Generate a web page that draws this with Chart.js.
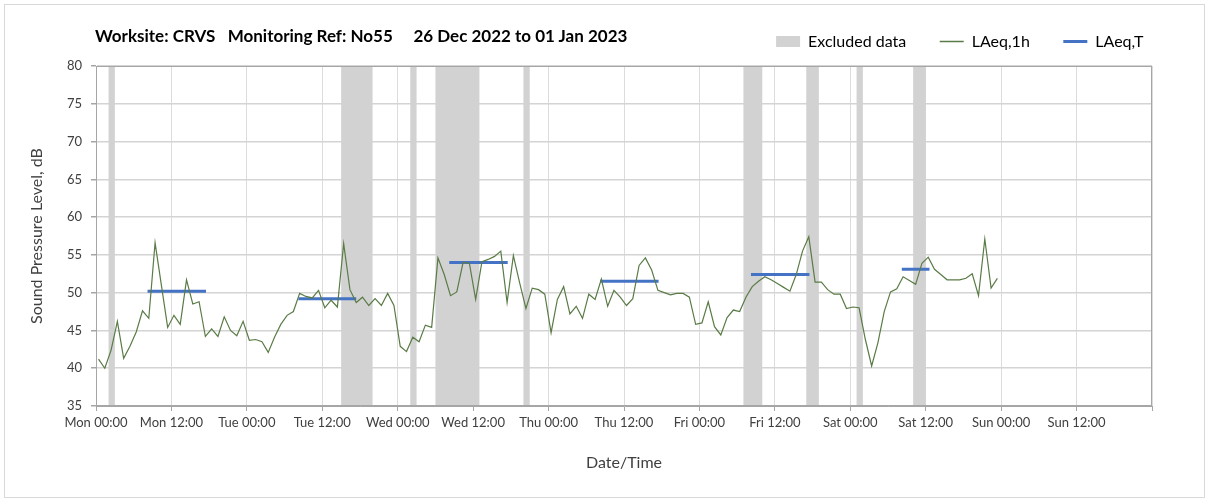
<!DOCTYPE html>
<html lang="en">
<head>
<meta charset="UTF-8">
<title>Noise monitoring CRVS No55</title>
<script src="https://cdn.jsdelivr.net/npm/chart.js"></script>
<style>
    body {
        margin: 0;
        background: #ffffff;
        font-family: Lato, "Open Sans", sans-serif;
    }
    #wrap {
        position: relative;
        width: 1208px;
        height: 501px;
    }
    #frame {
        position: absolute;
        left: 4px;
        top: 4px;
        width: 1199px;
        height: 492px;
        border: 1px solid #d9d9d9;
    }
    #heading {
        position: absolute;
        left: 95px;
        top: 25px;
        font-size: 17px;
        font-weight: bold;
        color: #000000;
        white-space: pre;
    }
    canvas {
        position: absolute;
        left: 0;
        top: 0;
    }
</style>
</head>
<body>
<div id="wrap">
    <div id="frame"></div>
    <canvas id="noise" width="1208" height="501"></canvas>
    <div id="heading">Worksite: CRVS   Monitoring Ref: No55     26 Dec 2022 to 01 Jan 2023</div>
</div>
<script>
// x axis is hours from Mon 26 Dec 00:00
const tickLabels = ['Mon 00:00', 'Mon 12:00', 'Tue 00:00', 'Tue 12:00', 'Wed 00:00', 'Wed 12:00',
    'Thu 00:00', 'Thu 12:00', 'Fri 00:00', 'Fri 12:00', 'Sat 00:00', 'Sat 12:00', 'Sun 00:00', 'Sun 12:00', ''];

// hourly LAeq,1h, dB (first reading at firstHour, then one per hour)
const firstHour = 0.4;
const laeq1h = [
    41.2, 40.0, 42.4, 46.2, 41.3, 42.9, 44.8, 47.6, 46.6, 56.6, 51.0, 45.4,
    47.0, 45.8, 51.7, 48.5, 48.8, 44.2, 45.2, 44.2, 46.8, 45.0, 44.3, 46.2,
    43.7, 43.8, 43.5, 42.1, 44.1, 45.8, 47.0, 47.5, 49.9, 49.5, 49.3, 50.3,
    48.0, 49.0, 48.1, 56.5, 50.4, 48.7, 49.4, 48.3, 49.2, 48.3, 49.9, 48.3,
    42.9, 42.2, 44.1, 43.5, 45.7, 45.4, 54.6, 52.4, 49.6, 50.1, 54.0, 53.9,
    49.1, 54.1, 54.4, 54.8, 55.5, 48.7, 54.9, 51.3, 47.9, 50.6, 50.4, 49.8,
    44.7, 49.1, 50.8, 47.2, 48.2, 46.6, 49.8, 49.1, 51.8, 48.2, 50.3, 49.4,
    48.3, 49.2, 53.6, 54.6, 53.0, 50.3, 50.0, 49.7, 49.9, 49.9, 49.4, 45.8,
    46.0, 48.8, 45.5, 44.4, 46.7, 47.7, 47.5, 49.4, 50.8, 51.5, 52.1, 51.7,
    51.2, 50.7, 50.2, 52.4, 55.5, 57.4, 51.4, 51.4, 50.4, 49.8, 49.8, 47.9,
    48.1, 48.0, 43.8, 40.3, 43.4, 47.5, 50.1, 50.5, 52.1, 51.6, 51.1, 53.9,
    54.7, 53.1, 52.4, 51.7, 51.7, 51.7, 51.9, 52.5, 49.6, 57.1, 50.6, 51.9
];

// LAeq,T over each daytime period
const periodStart = [8.2, 32.2, 56.2, 80.2, 104.2, 128.2];
const periodEnd = [17.5, 41.4, 65.5, 89.5, 113.5, 132.6];
const periodLevel = [50.2, 49.2, 54.0, 51.5, 52.4, 53.1];

// excluded data windows (hours)
const excludedStart = [2, 39, 50, 54, 68, 103, 113, 121, 130];
const excludedEnd = [3, 44, 51, 61, 69, 106, 115, 122, 132];

const green = '#5a7b46';
const blue = '#4472c4';
const bandGrey = '#d2d2d2';
const textGrey = '#404040';

const hourlyPoints = laeq1h.map((v, i) => ({ x: firstHour + i, y: v }));

const periodSets = periodLevel.map((lvl, i) => ({
    label: 'LAeq,T',
    data: [{ x: periodStart[i], y: lvl }, { x: periodEnd[i], y: lvl }],
    borderColor: blue,
    borderWidth: 3,
    pointRadius: 0,
    fill: false
}));

const bandsPlugin = {
    id: 'bands',
    afterInit(chart) {
        // make the legend block as tall as the space above the plot
        const lg = chart.legend;
        const fit0 = lg.fit;
        lg.fit = function () {
            fit0.call(this);
            this.height = 66;
        };
    },
    beforeDatasetsDraw(chart) {
        const { ctx, chartArea, scales } = chart;
        ctx.save();
        ctx.fillStyle = bandGrey;
        for (let i = 0; i < excludedStart.length; i++) {
            const x0 = scales.x.getPixelForValue(excludedStart[i]);
            const x1 = scales.x.getPixelForValue(excludedEnd[i]);
            ctx.fillRect(x0, chartArea.top, x1 - x0, chartArea.bottom - chartArea.top);
        }
        ctx.strokeStyle = '#a6a6a6';
        ctx.lineWidth = 1;
        ctx.strokeRect(chartArea.left + 0.5, chartArea.top + 0.5,
            chartArea.right - chartArea.left - 1, chartArea.bottom - chartArea.top - 1);
        ctx.restore();
    }
};

new Chart(document.getElementById('noise'), {
    type: 'line',
    data: {
        datasets: [{
            label: 'LAeq,1h',
            data: hourlyPoints,
            borderColor: green,
            borderWidth: 1.2,
            pointRadius: 0,
            tension: 0,
            fill: false
        }].concat(periodSets)
    },
    options: {
        responsive: false,
        animation: false,
        layout: { padding: { left: 20, right: 31, top: 0, bottom: 20 } },
        plugins: {
            tooltip: { enabled: false },
            legend: {
                position: 'top',
                align: 'end',
                labels: {
                    usePointStyle: true,
                    pointStyleWidth: 24,
                    boxHeight: 11,
                    padding: 33.5,
                    color: textGrey,
                    font: { family: 'Lato', size: 16 },
                    generateLabels: () => [
                        { text: 'Excluded data', fillStyle: bandGrey, strokeStyle: bandGrey, lineWidth: 0, pointStyle: 'rect', hidden: false },
                        { text: 'LAeq,1h', fillStyle: green, strokeStyle: green, lineWidth: 1.5, pointStyle: 'line', hidden: false },
                        { text: 'LAeq,T', fillStyle: blue, strokeStyle: blue, lineWidth: 3, pointStyle: 'line', hidden: false }
                    ]
                }
            }
        },
        scales: {
            x: {
                type: 'linear',
                min: 0,
                max: 168,
                afterFit: s => { s.height = 75; },
                ticks: {
                    stepSize: 12,
                    autoSkip: false,
                    maxRotation: 0,
                    padding: 4,
                    color: textGrey,
                    font: { family: 'Lato', size: 13 },
                    callback: v => tickLabels[Math.round(v / 12)]
                },
                grid: { color: '#dcdcdc', lineWidth: 1, tickLength: 5, tickColor: '#a6a6a6' },
                border: { color: '#a6a6a6' },
                title: {
                    display: true,
                    text: 'Date/Time',
                    color: textGrey,
                    font: { family: 'Lato', size: 16 },
                    padding: { top: 0, bottom: 8.4 }
                }
            },
            y: {
                min: 35,
                max: 80,
                afterFit: s => { s.width = 76; },
                ticks: {
                    stepSize: 5,
                    padding: 9,
                    color: textGrey,
                    font: { family: 'Lato', size: 13 }
                },
                grid: { color: '#d4d4d4', lineWidth: 1.5, tickLength: 5, tickColor: '#a6a6a6' },
                border: { color: '#a6a6a6' },
                title: {
                    display: true,
                    text: 'Sound Pressure Level, dB',
                    color: textGrey,
                    font: { family: 'Lato', size: 16 },
                    padding: { top: 7.4, bottom: 0 }
                }
            },
            yR: {
                position: 'right',
                afterFit: s => { s.width = 25; },
                grid: { display: false },
                ticks: { display: false },
                border: { display: false }
            }
        }
    },
    plugins: [bandsPlugin]
});
</script>
</body>
</html>
